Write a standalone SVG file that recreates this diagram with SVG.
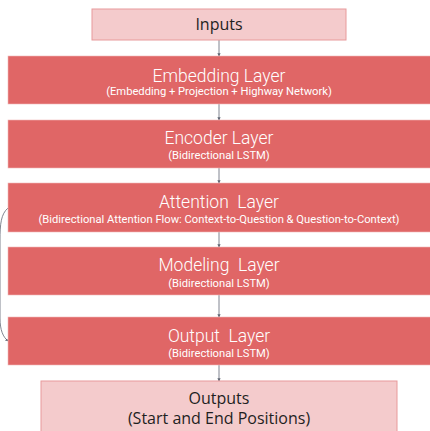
<svg xmlns="http://www.w3.org/2000/svg" width="430" height="431" viewBox="0 0 430 431">
  <defs>
    <marker id="arr" viewBox="0 0 6 6" refX="5" refY="3" markerWidth="4" markerHeight="4" orient="auto">
      <path d="M0,0 L6,3 L0,6 z" fill="#5f6673"/>
    </marker>
    <style>
      .io { fill: #f4cbcc; stroke: #e89a9b; stroke-width: 1; }
      .layer { fill: #e06666; stroke: #f0b8b8; stroke-width: 0.6; }
      .title { font-family: Roboto, "Liberation Sans", sans-serif; font-weight: 300; font-size: 17.5px; fill: #ffffff; text-anchor: middle; white-space: pre; }
      .sub { font-family: Roboto, "Liberation Sans", sans-serif; font-size: 11.2px; fill: #ffffff; text-anchor: middle; }
      .iotext { font-family: "Open Sans", "Liberation Sans", sans-serif; font-size: 16px; fill: #1f1f1f; text-anchor: middle; }
      .conn { stroke: #5f6673; stroke-width: 0.8; fill: none; marker-end: url(#arr); }
    </style>
  </defs>
  <rect width="430" height="431" fill="#ffffff"/>

  <g id="connectors">
    <line class="conn" x1="219" y1="40" x2="219" y2="56"/>
    <line class="conn" x1="219" y1="104" x2="219" y2="120"/>
    <line class="conn" x1="219" y1="168" x2="219" y2="183"/>
    <line class="conn" x1="219" y1="232" x2="219" y2="247"/>
    <line class="conn" x1="219" y1="295" x2="219" y2="317"/>
    <line class="conn" x1="219" y1="365" x2="219" y2="381"/>
    <path class="conn" d="M8,208 C1,214 0,224 0,240 L0,318 C0,330 3,337 8,341"/>
  </g>

  <g id="inputs">
    <rect class="io" x="92" y="9" width="254" height="31"/>
    <text class="iotext" x="219" y="30">Inputs</text>
  </g>

  <g id="embedding-layer">
    <rect class="layer" x="8" y="56" width="424" height="48"/>
    <text class="title" x="219" y="82">Embedding Layer</text>
    <text class="sub" x="219" y="95">(Embedding + Projection + Highway Network)</text>
  </g>

  <g id="encoder-layer">
    <rect class="layer" x="8" y="120" width="424" height="48"/>
    <text class="title" x="219" y="144">Encoder Layer</text>
    <text class="sub" x="219" y="159">(Bidirectional LSTM)</text>
  </g>

  <g id="attention-layer">
    <rect class="layer" x="8" y="183" width="424" height="49"/>
    <text class="title" x="219" y="208">Attention  Layer</text>
    <text class="sub" x="219" y="223">(Bidirectional Attention Flow: Context-to-Question &amp; Question-to-Context)</text>
  </g>

  <g id="modeling-layer">
    <rect class="layer" x="8" y="247" width="424" height="48"/>
    <text class="title" x="219" y="271">Modeling  Layer</text>
    <text class="sub" x="219" y="287">(Bidirectional LSTM)</text>
  </g>

  <g id="output-layer">
    <rect class="layer" x="8" y="317" width="424" height="48"/>
    <text class="title" x="219" y="342">Output  Layer</text>
    <text class="sub" x="219" y="357">(Bidirectional LSTM)</text>
  </g>

  <g id="outputs">
    <rect class="io" x="41" y="381" width="356" height="55"/>
    <text class="iotext" x="219" y="404">Outputs</text>
    <text class="iotext" x="219" y="424">(Start and End Positions)</text>
  </g>
</svg>
